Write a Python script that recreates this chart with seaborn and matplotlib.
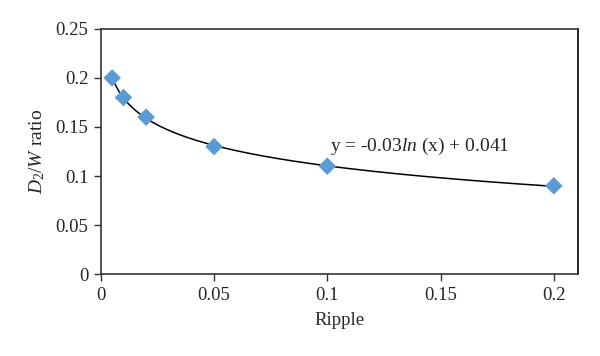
import numpy as np
import pandas as pd
import matplotlib
matplotlib.use("Agg")
import matplotlib.pyplot as plt
import seaborn as sns

ripple = [0.005, 0.01, 0.02, 0.05, 0.1, 0.2]
ratio = [0.20, 0.18, 0.16, 0.13, 0.11, 0.09]
x_ticks = [0, 0.05, 0.1, 0.15, 0.2]
x_tick_labels = ["0", "0.05", "0.1", "0.15", "0.2"]
y_ticks = [0, 0.05, 0.1, 0.15, 0.2, 0.25]
y_tick_labels = ["0", "0.05", "0.1", "0.15", "0.2", "0.25"]

df = pd.DataFrame({"Ripple": ripple, "ratio": ratio})

sns.set_theme(style="white")
plt.rcParams["font.family"] = ["Liberation Serif", "DejaVu Serif"]
plt.rcParams["mathtext.fontset"] = "custom"
plt.rcParams["mathtext.it"] = "Liberation Serif:italic"
plt.rcParams["mathtext.rm"] = "Liberation Serif"

fig = plt.figure(figsize=(6, 3.56), dpi=100)
ax = fig.add_axes([0.168, 0.230, 0.795, 0.689])

# logarithmic trend line fitted like the spreadsheet one
a, b = np.polyfit(np.log(df["Ripple"]), df["ratio"], 1)
xs = np.linspace(min(ripple), max(ripple), 200)
trend = pd.DataFrame({"x": xs, "y": a * np.log(xs) + b})
sns.lineplot(data=trend, x="x", y="y", ax=ax, color="black", linewidth=1.1)

sns.scatterplot(data=df, x="Ripple", y="ratio", ax=ax, marker="D", s=80,
                color="#5B9BD5", edgecolor="none", zorder=3)

ax.text(0.141, 0.130, r"y = -0.03$\it{ln}$ (x) + 0.041", fontsize=14,
        ha="center", va="center")

ax.set_xlim(0, 0.2106)
ax.set_ylim(0, 0.25)
ax.set_xticks(x_ticks, x_tick_labels)
ax.set_yticks(y_ticks, y_tick_labels)
ax.tick_params(direction="out", length=5, width=1, color="#333333",
               labelsize=13.5, bottom=True, left=True, pad=4)
for side in ["left", "bottom", "top", "right"]:
    ax.spines[side].set_visible(True)
    ax.spines[side].set_color("#333333")
    ax.spines[side].set_linewidth(1.2)
ax.spines["right"].set_color("black")

ax.set_xlabel("Ripple", fontsize=13.5, labelpad=6)
ax.set_ylabel(r"$D_2/W$ ratio", fontsize=14, labelpad=6)

fig.savefig("out.png", dpi=100)
